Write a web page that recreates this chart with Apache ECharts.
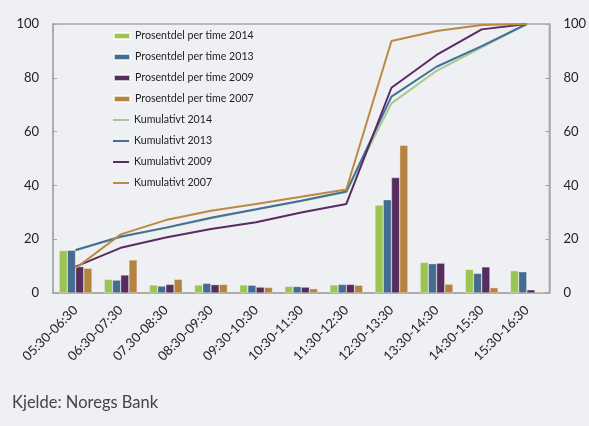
<!DOCTYPE html>
<html>
<head>
<meta charset="utf-8">
<script src="https://cdn.jsdelivr.net/npm/echarts@6/dist/echarts.min.js"></script>
<style>
html,body{margin:0;padding:0;background:#eff0f3;}
#c{width:589px;height:426px;}
</style>
</head>
<body>
<div id="c"></div>
<script>
const categories = ["05:30-06:30","06:30-07:30","07.30-08:30","08:30-09:30","09:30-10:30","10:30-11:30","11:30-12:30","12:30-13:30","13:30-14:30","14:30-15:30","15:30-16:30"];
const yTicks = [0,20,40,60,80,100];

const bar2014 = [15.8, 5.1, 3.0, 3.0, 3.0, 2.5, 3.0, 32.7, 11.4, 8.8, 8.3];
const bar2013 = [15.9, 4.8, 2.6, 3.6, 2.9, 2.4, 3.2, 34.7, 10.9, 7.3, 7.9];
const bar2009 = [9.8, 6.7, 3.2, 3.1, 2.2, 2.2, 3.2, 42.9, 11.1, 9.7, 1.2];
const bar2007 = [9.2, 12.3, 5.1, 3.2, 2.1, 1.6, 2.9, 54.9, 3.3, 2.0, 0.4];

const cum2014 = [15.8, 21.0, 24.2, 27.8, 31.0, 34.2, 37.5, 70.5, 82.6, 91.3, 100];
const cum2013 = [16.0, 20.9, 24.3, 28.0, 31.1, 34.3, 37.7, 73.0, 84.1, 91.8, 100];
const cum2009 = [9.8, 16.8, 20.6, 23.8, 26.3, 29.9, 33.1, 76.3, 88.5, 98.0, 100];
const cum2007 = [9.2, 21.8, 27.1, 30.6, 33.1, 35.8, 38.5, 93.7, 97.4, 99.6, 100];

const barNames = ["Prosentdel per time 2014","Prosentdel per time 2013","Prosentdel per time 2009","Prosentdel per time 2007"];
const lineNames = ["Kumulativt 2014","Kumulativt 2013","Kumulativt 2009","Kumulativt 2007"];
const barColors = ["#9bc453","#446b90","#552e5e","#b3833f"];
const lineColors = ["#a9c98c","#42709a","#5a2a62","#bb8942"];

const chart = echarts.init(document.getElementById('c'), null, {renderer:'canvas'});
const axisGray = '#a8a8a8';
const fontFam = 'Lato, "Open Sans", sans-serif';

const barData = [bar2014, bar2013, bar2009, bar2007];
const lineData = [cum2014, cum2013, cum2009, cum2007];

const series = [];
barData.forEach((d,i)=>{
  series.push({
    name: barNames[i], type:'bar', data:d, barGap:'0%', barCategoryGap:'27%',
    itemStyle:{color:barColors[i], borderColor:'rgba(255,255,255,0.7)', borderWidth:0.5},
    z:2
  });
});
lineData.forEach((d,i)=>{
  series.push({
    name: lineNames[i], type:'line', data:d, symbol:'none',
    lineStyle:{color:lineColors[i], width:2}, itemStyle:{color:lineColors[i]},
    z:3+i
  });
});

const legendText = {fontFamily:'Lato, sans-serif', fontSize:10.6, color:'#222', lineHeight:21};

chart.setOption({
  animation:false,
  backgroundColor:'#eff0f3',
  grid:{left:53, right:37, top:24, bottom:133, show:true, borderColor:axisGray, borderWidth:1.5, backgroundColor:'transparent'},
  legend:[
    {data:barNames, orient:'vertical', left:113, top:25.5, padding:0, itemWidth:16, itemHeight:6, itemGap:0,
     icon:'rect', textStyle:legendText},
    {data:lineNames, orient:'vertical', left:113, top:109.5, padding:0, itemWidth:16, itemHeight:2, itemGap:0,
     icon:'rect', textStyle:legendText}
  ],
  xAxis:{
    type:'category', data:categories,
    axisLine:{lineStyle:{color:axisGray, width:1.5}},
    axisTick:{inside:true, length:4, lineStyle:{color:axisGray}},
    axisLabel:{rotate:45, interval:0, fontSize:13, color:'#222', fontFamily:fontFam, margin:15}
  },
  yAxis:[
    {type:'value', min:yTicks[0], max:yTicks[yTicks.length-1], interval:20, position:'left',
     axisLine:{show:true, lineStyle:{color:axisGray, width:1.5}},
     axisTick:{show:true, inside:true, length:4, lineStyle:{color:axisGray}},
     splitLine:{show:false},
     axisLabel:{fontSize:13, color:'#222', fontFamily:fontFam, margin:14}},
    {type:'value', min:yTicks[0], max:yTicks[yTicks.length-1], interval:20, position:'right',
     axisLine:{show:true, lineStyle:{color:axisGray, width:1.5}},
     axisTick:{show:true, inside:true, length:4, lineStyle:{color:axisGray}},
     splitLine:{show:false},
     axisLabel:{fontSize:13, color:'#222', fontFamily:fontFam, margin:14}}
  ],
  graphic:[{type:'text', left:12, top:394, style:{text:'Kjelde: Noregs Bank', fontSize:16.5, fill:'#444', fontFamily:fontFam}}],
  series: series
});
</script>
</body>
</html>
